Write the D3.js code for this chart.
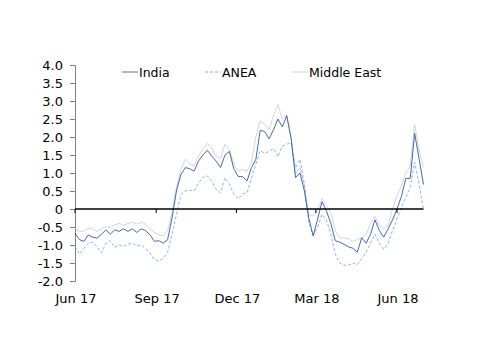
<!DOCTYPE html>
<html>
<head>
<meta charset="utf-8">
<script src="https://cdn.jsdelivr.net/npm/d3@7"></script>
<style>
  body { margin: 0; background: #fff; }
  svg text { font-family: "DejaVu Sans", Verdana, sans-serif; font-size: 13px; fill: #000; }
</style>
</head>
<body>
<div id="chart"></div>
<script>
// Readings every 5 days from 1 Jun 2017
const startDate = new Date(2017, 5, 1);
const stepDays = 5;

const india = [
  -0.67, -0.85, -0.9, -0.72, -0.78, -0.81, -0.7, -0.58, -0.7, -0.58,
  -0.62, -0.55, -0.62, -0.55, -0.65, -0.55, -0.6, -0.72, -0.9, -0.88,
  -0.95, -0.85, -0.25, 0.5, 0.95, 1.15, 1.12, 1.05, 1.33, 1.5,
  1.63, 1.47, 1.33, 1.15, 1.5, 1.6, 1.12, 0.9, 0.9, 0.78,
  1.15, 1.38, 2.19, 2.15, 1.95, 2.2, 2.5, 2.28, 2.59, 1.95,
  0.87, 1.0, 0.5, -0.25, -0.75, -0.28, 0.2, -0.05, -0.4, -0.88,
  -0.92, -0.98, -1.05, -1.09, -1.2, -0.8, -0.95, -0.7, -0.3, -0.6,
  -0.78, -0.55, -0.3, 0.0, 0.35, 0.85, 0.85, 2.1, 1.4, 0.68,
];

const anea = [
  -1.04, -1.25, -1.1, -0.95, -0.92, -1.05, -1.22, -0.95, -0.88, -1.07,
  -1.0, -1.04, -0.98, -0.95, -1.02, -1.0, -1.1, -1.22, -1.4, -1.45,
  -1.37, -1.2, -0.7, -0.15, 0.4, 0.5, 0.52, 0.5, 0.72, 0.88,
  0.92, 0.77, 0.55, 0.45, 0.87, 0.7, 0.42, 0.28, 0.42, 0.45,
  0.85, 1.25, 1.62, 1.55, 1.6, 1.68, 1.45, 1.75, 1.8, 1.84,
  1.15, 1.38, 0.7, -0.4, -0.72, -0.5, -0.15, -0.3, -0.7, -1.25,
  -1.5, -1.56, -1.56, -1.5, -1.55, -1.38, -1.2, -0.95, -0.7, -0.95,
  -1.12, -0.95, -0.6, -0.28, 0.05, 0.32, 0.6, 1.3, 0.7, 0.0,
];

const middleEast = [
  -0.53, -0.62, -0.62, -0.53, -0.55, -0.62, -0.55, -0.49, -0.52, -0.44,
  -0.4, -0.45, -0.4, -0.37, -0.42, -0.37, -0.42, -0.55, -0.65, -0.72,
  -0.75, -0.6, -0.1, 0.6, 1.1, 1.38, 1.24, 1.2, 1.47, 1.68,
  1.82, 1.7, 1.47, 1.4, 1.8, 1.65, 1.25, 1.05, 1.1, 1.05,
  1.3, 2.0, 2.45, 2.35, 2.2, 2.6, 2.9, 2.5, 2.6, 2.0,
  0.96, 1.15, 0.65, -0.15, -0.2, -0.05, 0.3, 0.1, -0.1, -0.6,
  -0.8, -0.8, -0.83, -0.9, -0.85, -0.8, -0.72, -0.4, -0.2, -0.45,
  -0.55, -0.45, 0.0, 0.38, 0.65, 1.0, 1.2, 2.35, 1.65, 1.15,
];

const seriesNames = ['India', 'ANEA', 'Middle East'];
const xTickDates = ['2017-06-01', '2017-09-01', '2017-12-01', '2018-03-01', '2018-06-01'];
const yTicks = [-2.0, -1.5, -1.0, -0.5, 0, 0.5, 1.0, 1.5, 2.0, 2.5, 3.0, 3.5, 4.0];

const width = 500;
const height = 353;

const dates = india.map((d, i) => d3.timeDay.offset(startDate, i * stepDays));

const x = d3.scaleTime()
  .domain([new Date(2017, 5, 1), new Date(2018, 5, 1)])
  .range([75, 397]);
const y = d3.scaleLinear().domain([-2, 4]).range([281, 65]);

const svg = d3.select('#chart').append('svg')
  .attr('width', width)
  .attr('height', height);

// y axis
const yAxis = d3.axisLeft(y)
  .tickValues(yTicks)
  .tickSize(5)
  .tickPadding(7)
  .tickFormat((d) => (d === 0 ? '0' : d.toFixed(1)));
const yg = svg.append('g').attr('transform', 'translate(75,0)').call(yAxis);
yg.select('.domain').attr('stroke', '#808080');
yg.selectAll('.tick line').attr('stroke', '#808080');
yg.selectAll('text').style('font-size', '13px');

const styles = {
  India: { color: '#2f58aa', dash: null },
  ANEA: { color: '#7aaee6', dash: '3,2' },
  'Middle East': { color: '#cfcfcf', dash: null },
};

const line = d3.line()
  .x((d) => x(d.date))
  .y((d) => y(d.value));

const data = {
  India: india,
  ANEA: anea,
  'Middle East': middleEast,
};

['Middle East', 'ANEA', 'India'].forEach((name) => {
  const pts = data[name].map((v, i) => ({ date: dates[i], value: v }));
  svg.append('path')
    .datum(pts)
    .attr('fill', 'none')
    .attr('stroke', styles[name].color)
    .attr('stroke-width', 0.9)
    .attr('stroke-dasharray', styles[name].dash)
    .attr('d', line);
});

// zero line with quarterly ticks
const xEnd = x(dates[dates.length - 1]);
svg.append('line')
  .attr('x1', 75).attr('x2', xEnd)
  .attr('y1', y(0)).attr('y2', y(0))
  .attr('stroke', '#000')
  .attr('stroke-width', 1.3);

const ticks = xTickDates.map((s) => d3.timeParse('%Y-%m-%d')(s));
svg.selectAll('line.xtick')
  .data(ticks)
  .join('line')
  .attr('class', 'xtick')
  .attr('x1', (d) => x(d)).attr('x2', (d) => x(d))
  .attr('y1', y(0)).attr('y2', y(0) + 4)
  .attr('stroke', '#000');

svg.selectAll('text.xlabel')
  .data(ticks)
  .join('text')
  .attr('class', 'xlabel')
  .attr('x', (d) => x(d) + 1)
  .attr('y', 303)
  .attr('text-anchor', 'middle')
  .text(d3.timeFormat('%b %y'));

// legend
const legendX = [122, 205, 292];
const legend = svg.append('g');
seriesNames.forEach((name, i) => {
  legend.append('line')
    .attr('x1', legendX[i]).attr('x2', legendX[i] + 16)
    .attr('y1', 72).attr('y2', 72)
    .attr('stroke', name === 'India' ? '#5a6f9a' : styles[name].color)
    .attr('stroke-dasharray', styles[name].dash);
  legend.append('text')
    .attr('x', legendX[i] + 17)
    .attr('y', 76.5)
    .style('font-size', '12.5px')
    .text(name);
});
</script>
</body>
</html>
